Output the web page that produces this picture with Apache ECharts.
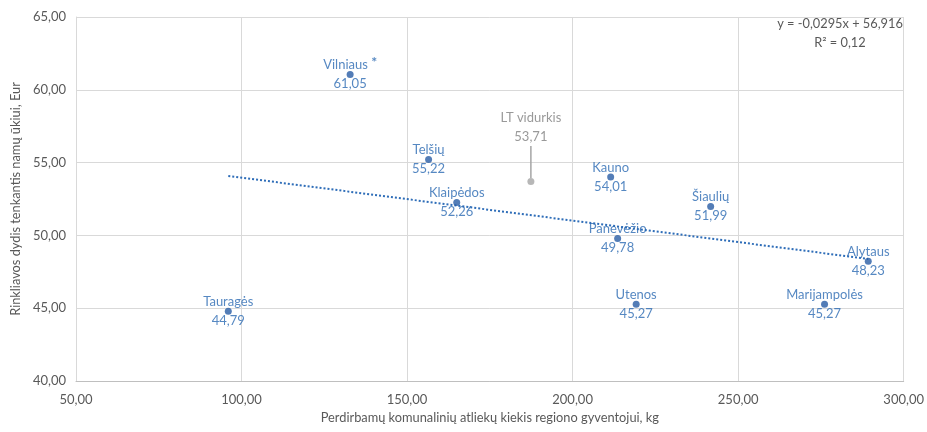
<!DOCTYPE html>
<html><head><meta charset="utf-8">
<script src="https://cdn.jsdelivr.net/npm/echarts@6/dist/echarts.min.js"></script>
<style>html,body{margin:0;padding:0;background:#fff}#c{width:927px;height:432px}</style>
</head><body><div id="c"></div>
<script>
const regions = ['Vilniaus','Telšių','Klaipėdos','Kauno','Šiaulių','Panevėžio','Alytaus','Utenos','Marijampolės','Tauragės'];
const recycledKg = [132.8,156.5,165.0,211.5,241.7,213.6,289.3,219.2,276.1,96.0];
const feeEur = [61.05,55.22,52.26,54.01,51.99,49.78,48.23,45.27,45.27,44.79];
const starred = ['Vilniaus'];
const avgName = 'LT vidurkis';
const avgX = [187.4];
const avgY = [53.71];
const trendSlope = -0.0295;
const trendIntercept = 56.916;
const trendR2 = 0.12;
const xTicks = [50,100,150,200,250,300];
const yTicks = [40,45,50,55,60,65];

const fmt = v => v.toFixed(2).replace('.', ',');
const FONT = 'Lato';
const BLUE_TXT = '#2C6AB3';
const BLUE_DOT = '#285DA5';
const GREY = '#595959';

const pts = regions.map((r,i)=>({name:r, value:[recycledKg[i], feeEur[i]]}));
const xmin = Math.min(...recycledKg), xmax = Math.max(...recycledKg);
const trend = [[xmin, trendSlope*xmin+trendIntercept],[xmax, trendSlope*xmax+trendIntercept]];
const eqText = 'y = -' + String(Math.abs(trendSlope)).replace('.',',') + 'x + ' + String(trendIntercept).replace('.',',');
const r2Text = 'R² = ' + fmt(trendR2);

const chart = echarts.init(document.getElementById('c'));
chart.setOption({
  animation:false,
  textStyle:{fontFamily:FONT},
  grid:{left:76,right:22,top:17,bottom:51},
  xAxis:{type:'value',min:xTicks[0],max:xTicks[xTicks.length-1],interval:50,
    name:'Perdirbamų komunalinių atliekų kiekis regiono gyventojui, kg',
    nameLocation:'middle',nameGap:30,
    nameTextStyle:{color:GREY,fontSize:12.8,fontFamily:FONT},
    axisLine:{show:true,lineStyle:{color:'#BFBFBF'}},axisTick:{show:false},
    axisLabel:{color:GREY,fontSize:13,fontFamily:FONT,formatter:fmt,margin:12},
    splitLine:{show:true,lineStyle:{color:'#D9D9D9'}}},
  yAxis:{type:'value',min:yTicks[0],max:yTicks[yTicks.length-1],interval:5,
    name:'Rinkliavos dydis tenkantis namų ūkiui, Eur',
    nameLocation:'middle',nameGap:54,
    nameTextStyle:{color:GREY,fontSize:12.8,fontFamily:FONT},
    axisLine:{show:true,lineStyle:{color:'#D9D9D9'}},axisTick:{show:false},
    axisLabel:{color:GREY,fontSize:13,fontFamily:FONT,formatter:fmt,margin:10},
    splitLine:{show:true,lineStyle:{color:'#D9D9D9'}}},
  graphic:[
    {type:'text',x:840,y:24,style:{text:eqText,fill:GREY,font:'12.8px Lato',align:'center',verticalAlign:'middle'}},
    {type:'text',x:840,y:43,style:{text:r2Text,fill:GREY,font:'12.8px Lato',align:'center',verticalAlign:'middle'}}
  ],
  series:[
    {type:'line',data:trend,symbol:'none',silent:true,
      lineStyle:{color:'#2E6DB8',width:2,type:[2,2]},z:1},
    {type:'scatter',data:pts,symbolSize:7,itemStyle:{color:BLUE_DOT},z:3,
      label:{show:true,position:'inside',color:BLUE_TXT,fontFamily:FONT,fontSize:13,
        lineHeight:19,
        formatter:p=> (starred.includes(p.name) ? '{n|'+p.name+' }{s|*}' : '{n|'+p.name+'}') + '\n{n|'+fmt(p.value[1])+'}',
        rich:{n:{color:BLUE_TXT,fontSize:13,fontFamily:FONT,lineHeight:19},
              s:{color:BLUE_TXT,fontSize:14,fontWeight:'bold',fontFamily:FONT,padding:[0,0,5,0]}}}},
    {type:'scatter',data:avgX.map((x,i)=>({name:avgName,value:[x,avgY[i]]})),symbolSize:7,
      itemStyle:{color:'#A5A5A5'},z:3,
      label:{show:true,position:'top',distance:4,color:'#7F7F7F',fontFamily:FONT,fontSize:13,lineHeight:19,
        formatter:p=>p.name+'\n'+fmt(p.value[1])},
      labelLayout:{dy:-28},
      labelLine:{show:true,lineStyle:{color:'#A5A5A5',width:1.5}}}
  ]
});
</script></body></html>
